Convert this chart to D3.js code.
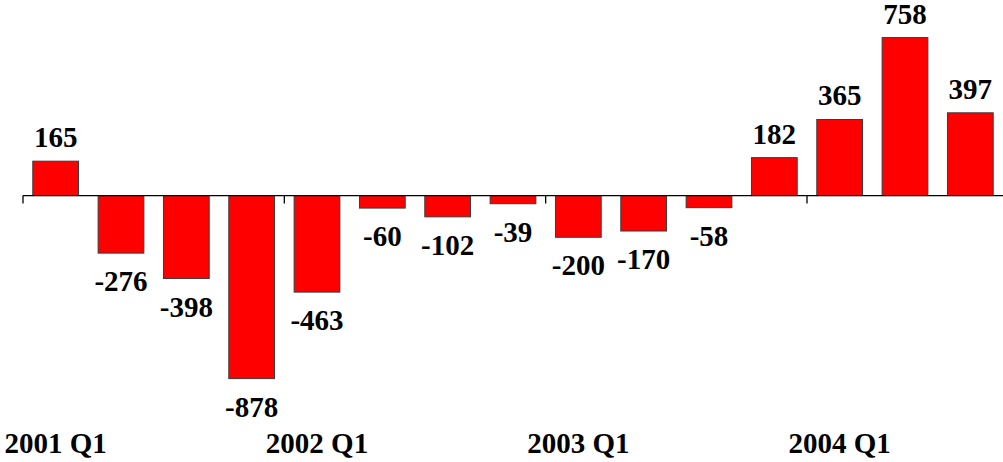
<!DOCTYPE html>
<html>
<head>
<meta charset="utf-8">
<script src="https://cdn.jsdelivr.net/npm/d3@7"></script>
<style>
  body { margin: 0; background: #fff; }
  text { font-family: "Liberation Serif", "Times New Roman", serif; font-weight: bold; }
</style>
</head>
<body>
<div id="chart"></div>
<script>
// quarters, 2001 Q1 .. 2004 Q3
const quarters = ["2001 Q1", "2001 Q2", "2001 Q3", "2001 Q4",
  "2002 Q1", "2002 Q2", "2002 Q3", "2002 Q4",
  "2003 Q1", "2003 Q2", "2003 Q3", "2003 Q4",
  "2004 Q1", "2004 Q2", "2004 Q3"];
const values = [165, -276, -398, -878, -463, -60, -102, -39, -200, -170, -58, 182, 365, 758, 397];
const tickLabels = ["2001 Q1", "2002 Q1", "2003 Q1", "2004 Q1"];

const w = 1003;
const h = 462;

const svg = d3.select("#chart").append("svg")
  .attr("width", w)
  .attr("height", h);

// scales
const x = d3.scaleBand()
  .domain(quarters)
  .range([23, 1003])
  .paddingInner(0.3)
  .paddingOuter(0.15);

const y = d3.scaleLinear()
  .domain([-900, 800])
  .range([383.2, 28.8]);

const offset = (x.step() - x.bandwidth()) / 2;

// bars
svg.selectAll(".bar")
  .data(values)
  .join("rect")
    .attr("class", "bar")
    .attr("x", (d, i) => x(quarters[i]))
    .attr("y", d => y(Math.max(0, d)))
    .attr("width", x.bandwidth())
    .attr("height", d => Math.abs(y(d) - y(0)))
    .attr("fill", "#ff0000")
    .attr("stroke", "#3a3a3a")
    .attr("stroke-width", 1);

// zero line + ticks
svg.append("line")
  .attr("x1", 23).attr("x2", 1003)
  .attr("y1", y(0)).attr("y2", y(0))
  .attr("stroke", "#000")
  .attr("stroke-width", 1.3);

svg.selectAll(".tick")
  .data(tickLabels)
  .join("line")
    .attr("class", "tick")
    .attr("x1", d => x(d) - offset)
    .attr("x2", d => x(d) - offset)
    .attr("y1", y(0))
    .attr("y2", y(0) + 8)
    .attr("stroke", "#000")
    .attr("stroke-width", 1.3);

// value labels
svg.selectAll(".val")
  .data(values)
  .join("text")
    .attr("class", "val")
    .attr("x", (d, i) => x(quarters[i]) + x.bandwidth() / 2)
    .attr("y", d => d >= 0 ? y(d) - 14 : y(d) + 38)
    .attr("text-anchor", "middle")
    .attr("font-size", 29)
    .text(d => d);

// category labels
svg.selectAll(".cat")
  .data(tickLabels)
  .join("text")
    .attr("class", "cat")
    .attr("x", d => x(d) + x.bandwidth() / 2)
    .attr("y", 453)
    .attr("text-anchor", "middle")
    .attr("font-size", 29)
    .text(d => d);
</script>
</body>
</html>
